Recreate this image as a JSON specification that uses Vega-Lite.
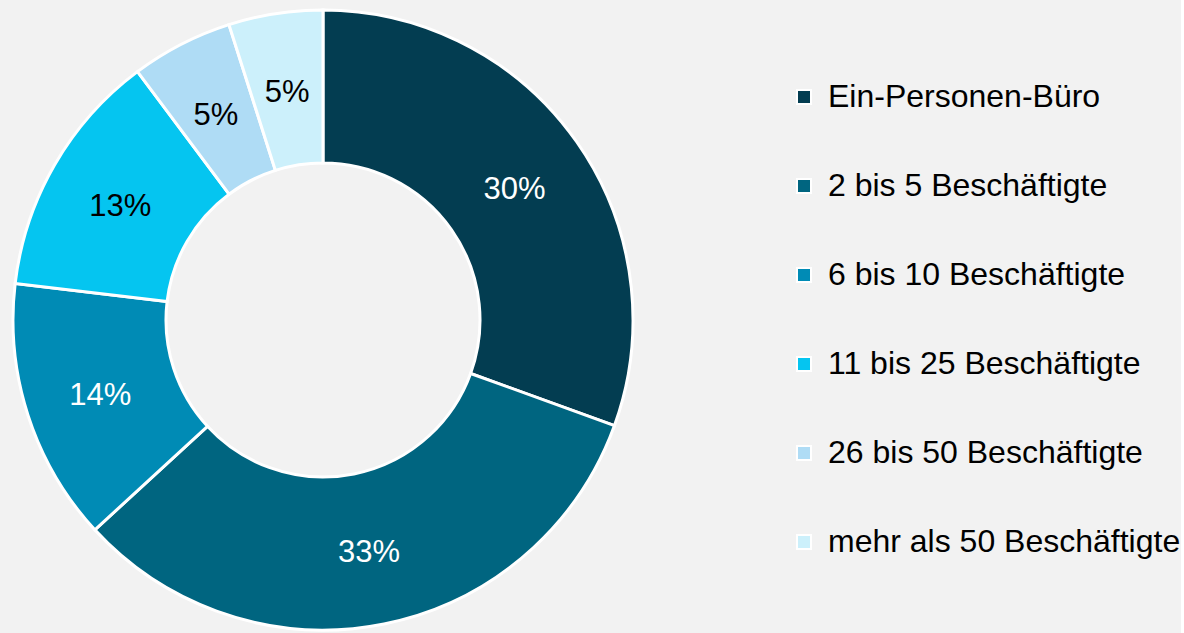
{
  "$schema": "https://vega.github.io/schema/vega-lite/v6.json",
  "width": 646,
  "height": 640,
  "padding": 0,
  "autosize": {"type": "pad"},
  "background": "#f2f2f2",
  "config": {"view": {"stroke": null}, "font": "Liberation Sans"},
  "data": {
    "values": [
      {"rank": 1, "category": "Ein-Personen-Büro", "share": 30.5, "label": "30%"},
      {"rank": 2, "category": "2 bis 5 Beschäftigte", "share": 32.6, "label": "33%"},
      {"rank": 3, "category": "6 bis 10 Beschäftigte", "share": 13.7, "label": "14%"},
      {"rank": 4, "category": "11 bis 25 Beschäftigte", "share": 12.9, "label": "13%"},
      {"rank": 5, "category": "26 bis 50 Beschäftigte", "share": 5.3, "label": "5%"},
      {"rank": 6, "category": "mehr als 50 Beschäftigte", "share": 4.9, "label": "5%"}
    ]
  },
  "encoding": {
    "theta": {"field": "share", "type": "quantitative", "stack": true},
    "order": {"field": "rank", "type": "quantitative"}
  },
  "layer": [
    {
      "mark": {"type": "arc", "outerRadius": 310, "innerRadius": 157, "stroke": "white", "strokeWidth": 3},
      "encoding": {
        "color": {
          "field": "category",
          "type": "nominal",
          "sort": null,
          "scale": {
            "domain": ["Ein-Personen-Büro", "2 bis 5 Beschäftigte", "6 bis 10 Beschäftigte", "11 bis 25 Beschäftigte", "26 bis 50 Beschäftigte", "mehr als 50 Beschäftigte"],
            "range": ["#033d51", "#006580", "#008bb5", "#05c5f0", "#afdcf5", "#ccf0fb"]
          },
          "legend": {
            "title": null,
            "orient": "none",
            "legendX": 788,
            "legendY": 81,
            "symbolType": "square",
            "symbolSize": 196,
            "symbolStrokeColor": "white",
            "symbolStrokeWidth": 2,
            "labelFontSize": 32,
            "labelFont": "Liberation Sans",
            "labelColor": "black",
            "labelOffset": 8,
            "rowPadding": 57,
            "labelLimit": 500
          }
        }
      }
    },
    {
      "mark": {"type": "text", "radius": 234, "dy": 4, "fontSize": 31, "font": "Liberation Sans"},
      "encoding": {
        "text": {"field": "label", "type": "nominal"},
        "color": {
          "condition": {"test": "datum.rank <= 3", "value": "white"},
          "value": "black"
        }
      }
    }
  ]
}
